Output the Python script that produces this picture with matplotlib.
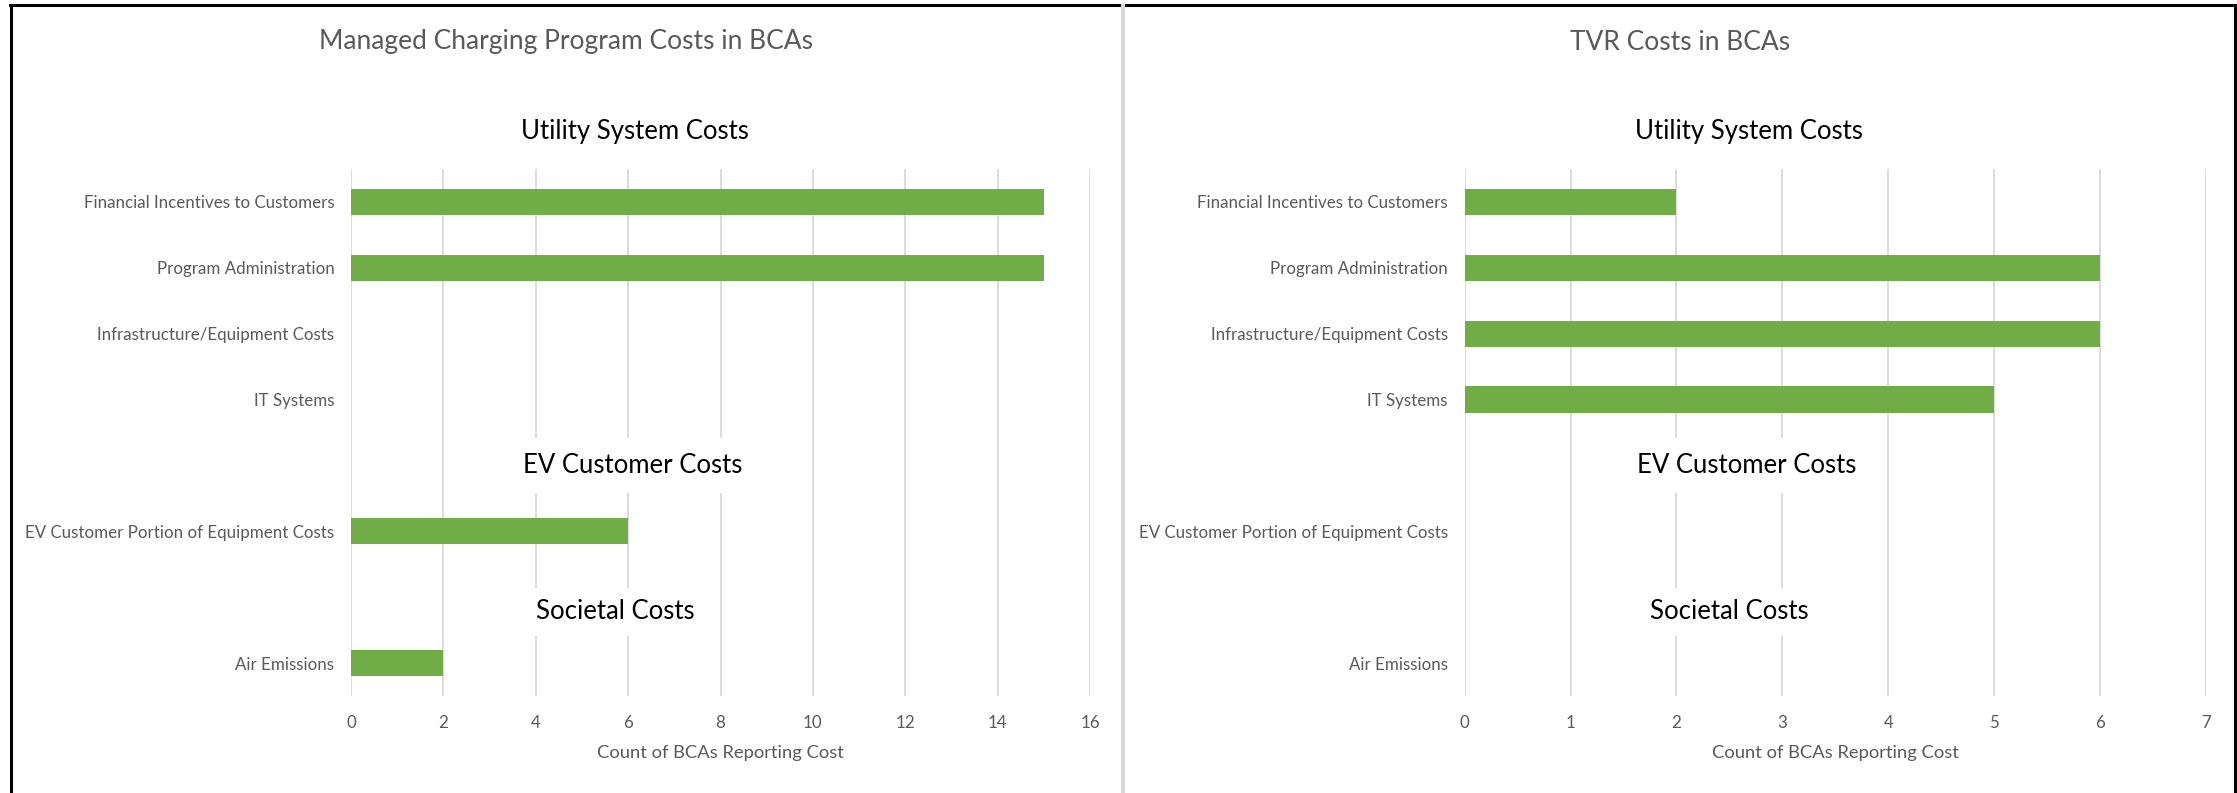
import matplotlib
matplotlib.use("Agg")
import matplotlib.pyplot as plt
from matplotlib.lines import Line2D

plt.rcParams['font.family'] = ['Lato', 'DejaVu Sans']

# ---- data ----
group_names = ["Utility System Costs", "EV Customer Costs", "Societal Costs"]
group_items = [
    ["Financial Incentives to Customers", "Program Administration",
     "Infrastructure/Equipment Costs", "IT Systems"],
    ["EV Customer Portion of Equipment Costs"],
    ["Air Emissions"],
]
managed_values = [15, 15, 0, 0, 6, 2]
tvr_values = [2, 6, 6, 5, 0, 0]
panel_titles = ["Managed Charging Program Costs in BCAs", "TVR Costs in BCAs"]
x_label = "Count of BCAs Reporting Cost"
managed_xticks = [0, 2, 4, 6, 8, 10, 12, 14, 16]
tvr_xticks = [0, 1, 2, 3, 4, 5, 6, 7]

GREEN = "#70AD47"
GRID = "#D9D9D9"
GRAY = "#595959"

W, H = 2237, 793
fig = plt.figure(figsize=(W / 100, H / 100), dpi=100)
fig.patch.set_facecolor("white")

# category positions: groups separated by a header slot
labels, positions, header_pos = [], [], []
pos = 0
for gi, items in enumerate(group_items):
    if gi > 0:
        header_pos.append(pos)
        pos += 1
    for it in items:
        labels.append(it)
        positions.append(pos)
        pos += 1
n_slots = pos


def fx(px):
    return px / W


def fy(py):
    return 1 - py / H


axes_spec = [
    (351, 1090, managed_values, managed_xticks, 566),
    (1464.6, 2206, tvr_values, tvr_xticks, 1680),
]
top_px, bot_px = 169, 696

for (x0, x1, vals, xt, tcx), title in zip(axes_spec, panel_titles):
    ax = fig.add_axes([fx(x0), fy(bot_px), fx(x1 - x0), (bot_px - top_px) / H])
    ax.barh(positions, vals, height=0.4, color=GREEN, zorder=3)
    ax.set_ylim(n_slots - 0.5, -0.5)
    ax.set_xlim(xt[0], xt[-1])
    ax.set_xticks(xt)
    ax.set_yticks(positions)
    ax.set_yticklabels(labels)
    ax.tick_params(axis="y", length=0, pad=12, labelsize=12.2, labelcolor=GRAY)
    ax.tick_params(axis="x", length=0, pad=14, labelsize=12.2, labelcolor=GRAY)
    ax.grid(axis="x", color=GRID, linewidth=1.3, zorder=0)
    ax.set_axisbelow(True)
    for s in ax.spines.values():
        s.set_visible(False)
    ax.set_xlabel(x_label, fontsize=13.2, color=GRAY, labelpad=10)

    # group headers
    xmax = xt[-1]
    ax.text(xmax * 0.384, -1.07, group_names[0], fontsize=18.5, color="black",
            ha="center", va="center")
    ax.text(xmax * 0.381, header_pos[0], group_names[1], fontsize=18.5, color="black",
            ha="center", va="center", zorder=5,
            bbox=dict(boxstyle="square,pad=0.6", fc="white", ec="none"))
    ax.text(xmax * 0.357, header_pos[1] + 0.22, group_names[2], fontsize=18.5, color="black",
            ha="center", va="center", zorder=5,
            bbox=dict(boxstyle="square,pad=0.45", fc="white", ec="none"))

    fig.text(fx(tcx), fy(42), title, fontsize=19, color=GRAY, ha="center", va="center")

# frame lines
fig.add_artist(Line2D([fx(10), fx(2236)], [fy(5), fy(5)], color="black", lw=2.2))
fig.add_artist(Line2D([fx(11), fx(11)], [fy(5), fy(793)], color="black", lw=2.2))
fig.add_artist(Line2D([fx(2235), fx(2235)], [fy(5), fy(793)], color="black", lw=2.2))
fig.add_artist(Line2D([fx(1123), fx(1123)], [fy(6), fy(793)], color=GRID, lw=3))

fig.savefig("out.png", dpi=100, facecolor="white")
